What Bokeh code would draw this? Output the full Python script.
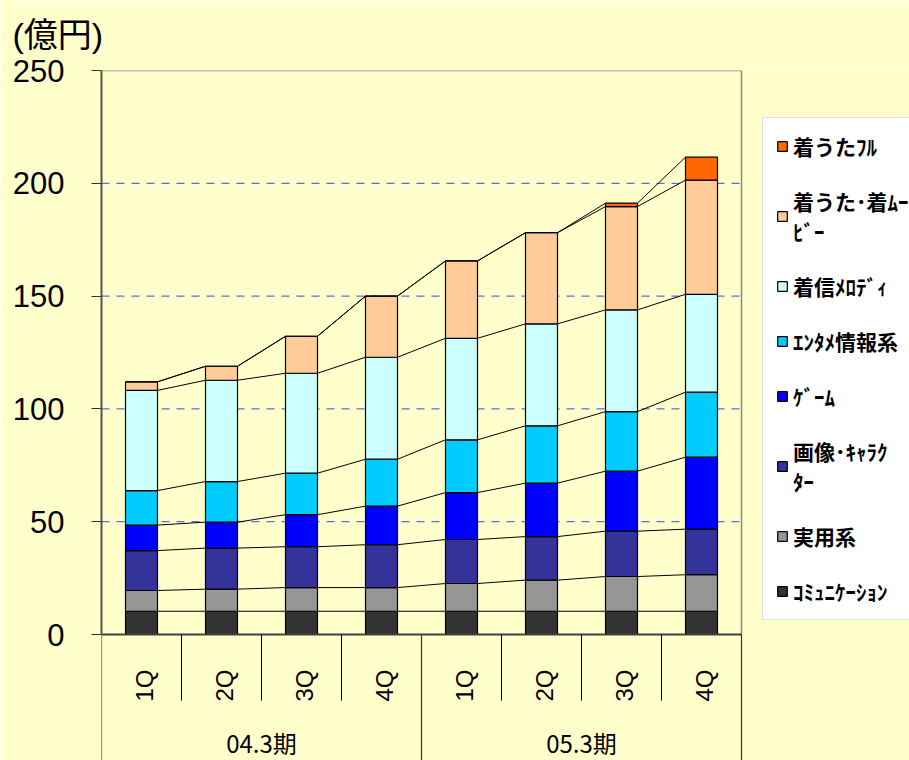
import math
from bokeh.plotting import figure
from bokeh.models import (Range1d, ColumnDataSource, Legend, LegendItem, FixedTicker)
from bokeh.core.properties import value
from bokeh.embed import file_html
from bokeh.resources import INLINE

# ---------------- data ----------------
groups = ["04.3期", "05.3期"]
quarters = ["1Q", "2Q", "3Q", "4Q"]

keys = ["comm", "jitsuyo", "image", "game", "enta", "melo", "uta", "full"]
legend_labels = ["ｺﾐｭﾆｹｰｼｮﾝ", "実用系", "画像･ｷｬﾗｸ\nﾀｰ", "ｹﾞｰﾑ",
                 "ｴﾝﾀﾒ情報系", "着信ﾒﾛﾃﾞｨ", "着うた･着ﾑｰ\nﾋﾞｰ", "着うたﾌﾙ"]
colors = ["#333333", "#969696", "#333399", "#0000FF",
          "#00CCFF", "#CCFFFF", "#FFCC99", "#FF6600"]

comm = [10.3, 10.3, 10.3, 10.3, 10.3, 10.3, 10.3, 10.3]
jitsuyo = [9.2, 9.8, 10.5, 10.5, 12.3, 13.8, 15.4, 16.2]
image = [17.7, 18.2, 18.1, 19.0, 19.5, 19.3, 20.1, 20.2]
game = [11.3, 11.5, 14.2, 17.1, 20.8, 23.7, 26.6, 31.9]
enta = [15.3, 18.0, 18.4, 20.8, 23.4, 25.4, 26.4, 28.8]
melo = [44.4, 44.9, 44.3, 45.2, 45.0, 45.2, 45.1, 43.4]
uta = [3.8, 6.2, 16.4, 27.1, 34.3, 40.4, 45.8, 50.6]
full = [0, 0, 0, 0, 0, 0, 1.5, 10.2]

y_ticks = [0, 50, 100, 150, 200, 250]
grid_ticks = [50, 100, 150, 200]

# ---------------- derived positions (category index -> x) ----------------
cats = [(g, q) for g in groups for q in quarters]
n = len(cats)
xc = [i + 0.5 for i in range(n)]          # category centres
x_left, x_right = 0, n
ymax = y_ticks[-1]
ybot = -55.85                              # bottom of category band

series = [comm, jitsuyo, image, game, enta, melo, uta, full]
data = {"x": xc}
for k, s in zip(keys, series):
    data[k] = s
source = ColumnDataSource(data)

BG = "#FFFFCC"
p = figure(width=909, height=760, output_backend="svg", toolbar_location=None,
           x_range=Range1d(0, n + 2.1), y_range=Range1d(ybot, ymax),
           x_axis_location=None, title="(億円)")
p.min_border_left = 101
p.min_border_top = 70
p.min_border_bottom = 0
p.min_border_right = 0
p.background_fill_color = BG
p.border_fill_color = BG
p.outline_line_color = None

p.title.align = "left"
p.title.offset = -89
p.title.vertical_align = "top"
p.title.standoff = 30
p.title.text_font = "Liberation Sans, Noto Sans CJK JP"
p.title.text_font_size = "34px"
p.title.text_font_style = "normal"
p.title.text_color = "black"

# y axis
p.yaxis.bounds = (0, ymax)
p.yaxis.ticker = FixedTicker(ticks=y_ticks)
p.yaxis.minor_tick_line_color = None
p.yaxis.major_tick_out = 10
p.yaxis.major_tick_in = 0
p.yaxis.major_tick_line_color = "#333333"
p.yaxis.axis_line_color = "#555555"
p.yaxis.axis_line_width = 2
p.yaxis.major_label_standoff = 27
p.yaxis.major_label_text_font = "Liberation Sans"
p.yaxis.major_label_text_font_size = "31px"
p.yaxis.major_label_text_color = "black"

p.xgrid.visible = False
p.ygrid.visible = False

# dashed gridlines limited to the plot area
p.segment(x0=[x_left] * len(grid_ticks), x1=[x_right] * len(grid_ticks),
          y0=grid_ticks, y1=grid_ticks, line_color="#4040E0",
          line_dash="8 7", line_width=1)
# top and right border of the plot area
p.segment(x0=[x_left, x_right], y0=[ymax, 0], x1=[x_right, x_right], y1=[ymax, ymax],
          line_color="#888888", line_width=1.5)

# stacked bars
renderers = p.vbar_stack(keys, x="x", width=0.4, color=colors, source=source,
                         line_color="black", line_width=1.2)

# series lines between bars
x0, x1, y0, y1 = [], [], [], []
cum = [0.0] * n
for s in series:
    cum = [c + v for c, v in zip(cum, s)]
    for i in range(n - 1):
        x0.append(xc[i] + 0.2)
        x1.append(xc[i + 1] - 0.2)
        y0.append(cum[i])
        y1.append(cum[i + 1])
p.segment(x0="x0", y0="y0", x1="x1", y1="y1", line_color="black", line_width=1,
          source=ColumnDataSource(dict(x0=x0, x1=x1, y0=y0, y1=y1)))

# category band: axis line and separators
p.segment(x0=[x_left], y0=[0], x1=[x_right], y1=[0], line_color="#404040", line_width=2)
sub_x = [i for i in range(1, n) if i % len(quarters) != 0]
p.segment(x0=sub_x, y0=[0] * len(sub_x), x1=sub_x, y1=[-29.3] * len(sub_x),
          line_color="black", line_width=1)
grp_x = [i * len(quarters) for i in range(len(groups) + 1)]
p.segment(x0=grp_x, y0=[0] * len(grp_x), x1=grp_x, y1=[ybot] * len(grp_x),
          line_color="#333333", line_width=1.2)

# quarter labels (rotated)
p.text(x=xc, y=[-29.7] * n, text=[c[1] for c in cats],
       angle=math.pi / 2, text_align="left", text_baseline="middle",
       text_font=value("Liberation Sans"), text_font_size="24px",
       text_color="black", x_offset=3)
# group labels
gx = [(i + 0.5) * len(quarters) for i in range(len(groups))]
p.text(x=gx, y=[-48.0] * len(groups), text=groups,
       text_align="center", text_baseline="middle",
       text_font=value("Noto Sans CJK JP"),
       text_font_size="24px", text_color="black")

# legend
items = [LegendItem(label=legend_labels[i], renderers=[renderers[i]])
         for i in reversed(range(len(keys)))]
legend = Legend(items=items, location=(661, 140), margin=0, padding=13,
                spacing=25, glyph_width=12, glyph_height=12, label_standoff=5,
                label_height=24,
                label_text_font="Noto Sans CJK JP", label_text_font_style="bold",
                label_text_font_size="21px", label_text_color="black",
                background_fill_color="white", background_fill_alpha=1,
                border_line_color="#C0C0C0", border_line_width=1.5)
p.add_layout(legend, "center")

open("out.html", "w").write(file_html(p, INLINE))
